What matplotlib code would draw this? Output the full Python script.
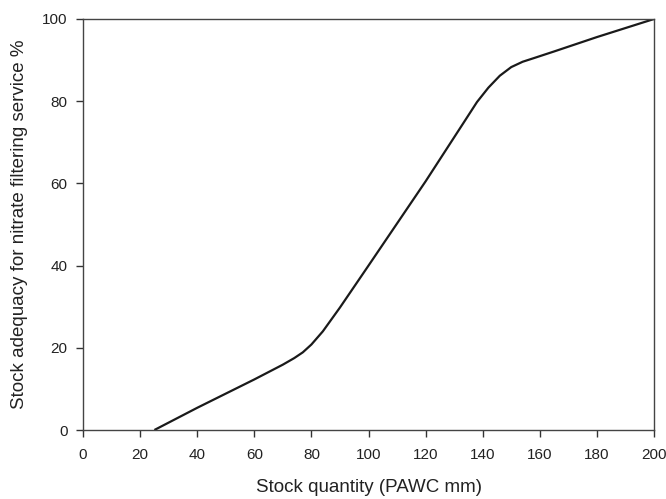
import matplotlib.pyplot as plt

plt.rcParams['font.family'] = ['Liberation Sans', 'DejaVu Sans']

# Curva
pawc = [25, 40, 60, 70, 74, 77, 80, 84, 90, 100, 120, 134, 138, 142, 146, 150, 154, 158, 165, 180, 200]
adequacy = [0, 5.4, 12.3, 15.9, 17.5, 18.9, 20.8, 24.0, 29.8, 40, 60.5, 75.5, 79.8, 83.3, 86.2, 88.3, 89.6, 90.5, 92.1, 95.6, 100]

xticks = list(range(0, 201, 20))
yticks = list(range(0, 101, 20))

fig = plt.figure(figsize=(6.66, 4.99), dpi=100)
ax = fig.add_axes([83 / 666, 69 / 499, 571 / 666, 411 / 499])

ax.plot(pawc, adequacy, color='#1a1a1a', lw=1.6, solid_capstyle='butt')

ax.set_xlim(0, 200)
ax.set_ylim(0, 100)
ax.set_xticks(xticks)
ax.set_yticks(yticks)
ax.tick_params(direction='out', length=5, width=1, colors='#333333',
               labelcolor='#222222', labelsize=11)
ax.tick_params(axis='x', pad=8)
ax.tick_params(axis='y', pad=6)
for s in ax.spines.values():
    s.set_color('#444444')
    s.set_linewidth(1)

ax.set_xlabel('Stock quantity (PAWC mm)', fontsize=13.5, color='#222222', labelpad=12.5)
ax.set_ylabel('Stock adequacy for nitrate filtering service %', fontsize=13.5,
              color='#222222', labelpad=10)

fig.savefig('out.png', dpi=100)
